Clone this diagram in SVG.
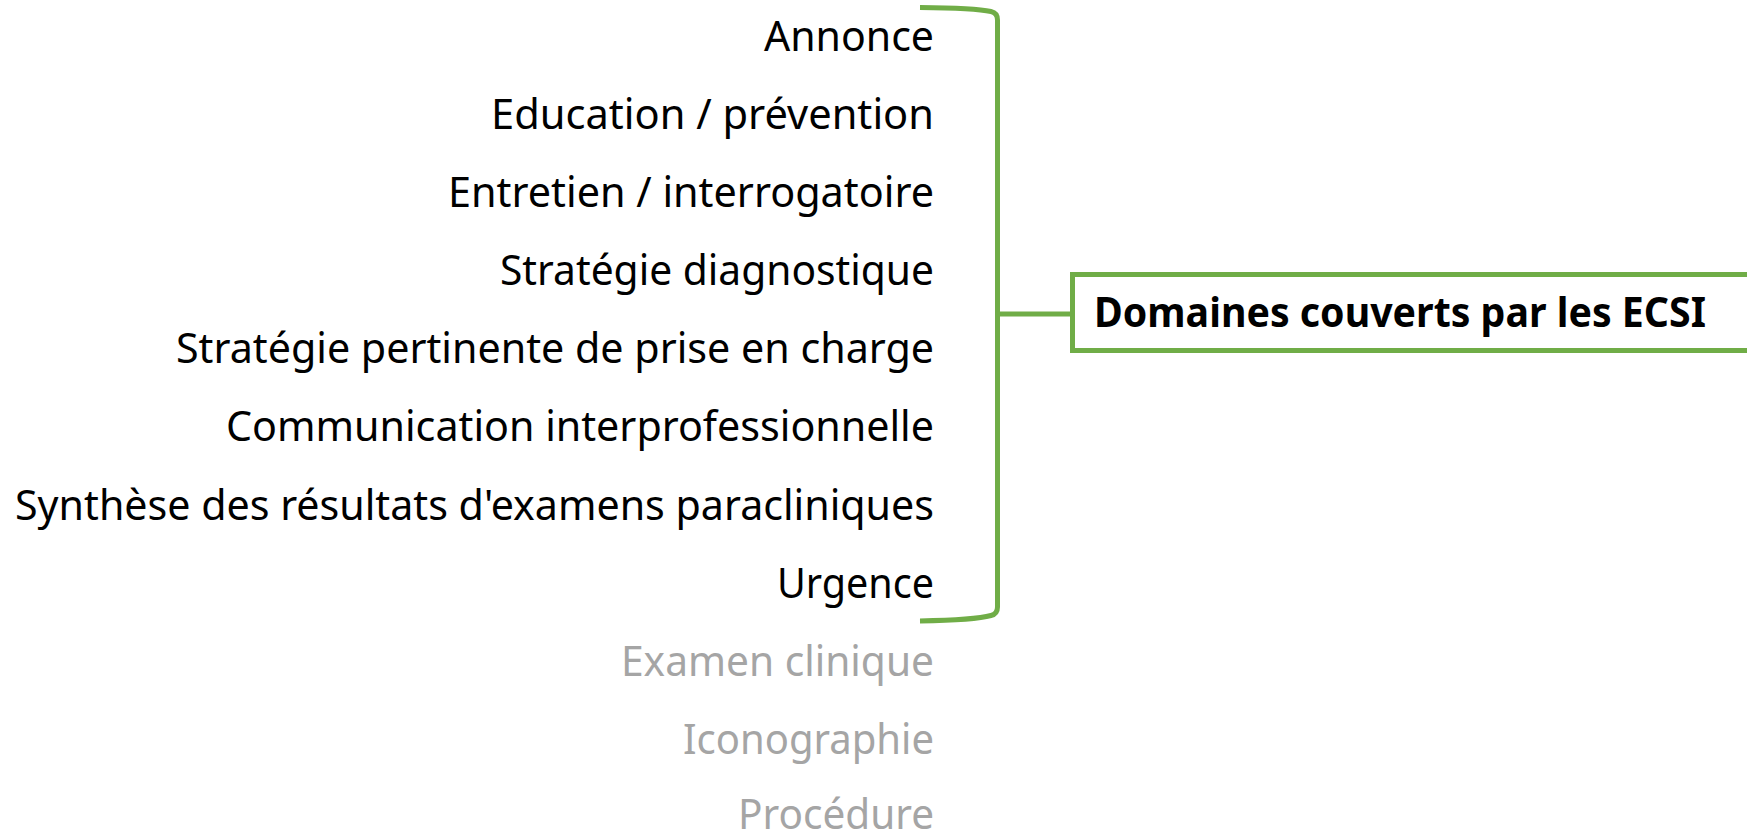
<svg xmlns="http://www.w3.org/2000/svg" width="1747" height="839" viewBox="0 0 1747 839">
<style>
.t{font-family:"Noto Sans","Open Sans",sans-serif;font-size:42px;text-anchor:end;fill:#000}
.g{fill:#A5A5A5}
.ln{fill:none;stroke:#70AD47;stroke-width:5}
.title{font-family:"Noto Sans","Open Sans",sans-serif;font-size:41px;font-weight:bold;fill:#000}
</style>
<rect width="1747" height="839" fill="#fff"/>
<g id="items">
<text class="t" x="934" y="51" textLength="170" lengthAdjust="spacingAndGlyphs">Annonce</text>
<text class="t" x="934" y="129" textLength="443" lengthAdjust="spacingAndGlyphs">Education / prévention</text>
<text class="t" x="934" y="207" textLength="486" lengthAdjust="spacingAndGlyphs">Entretien / interrogatoire</text>
<text class="t" x="934" y="285" textLength="434" lengthAdjust="spacingAndGlyphs">Stratégie diagnostique</text>
<text class="t" x="934" y="363" textLength="758" lengthAdjust="spacingAndGlyphs">Stratégie pertinente de prise en charge</text>
<text class="t" x="934" y="441" textLength="708" lengthAdjust="spacingAndGlyphs">Communication interprofessionnelle</text>
<text class="t" x="934" y="520" textLength="919" lengthAdjust="spacingAndGlyphs">Synthèse des résultats d'examens paracliniques</text>
<text class="t" x="934" y="598" textLength="157" lengthAdjust="spacingAndGlyphs">Urgence</text>
<text class="t g" x="934" y="676" textLength="313" lengthAdjust="spacingAndGlyphs">Examen clinique</text>
<text class="t g" x="934" y="754" textLength="251" lengthAdjust="spacingAndGlyphs">Iconographie</text>
<text class="t g" x="934" y="829" textLength="196" lengthAdjust="spacingAndGlyphs">Procédure</text>
</g>
<g id="connectors">
<path class="ln" d="M920,7.5 Q975,8 991,11.5 Q997.5,13 997.5,20 L997.5,607 Q997.5,614 991,615.5 Q975,620 920,621"/>
<line class="ln" x1="997.5" y1="314" x2="1072.5" y2="314"/>
</g>
<g id="title">
<rect class="ln" x="1072.5" y="274.5" width="680" height="76"/>
<text class="title" x="1094" y="327" textLength="612" lengthAdjust="spacingAndGlyphs">Domaines couverts par les ECSI</text>
</g>
</svg>
